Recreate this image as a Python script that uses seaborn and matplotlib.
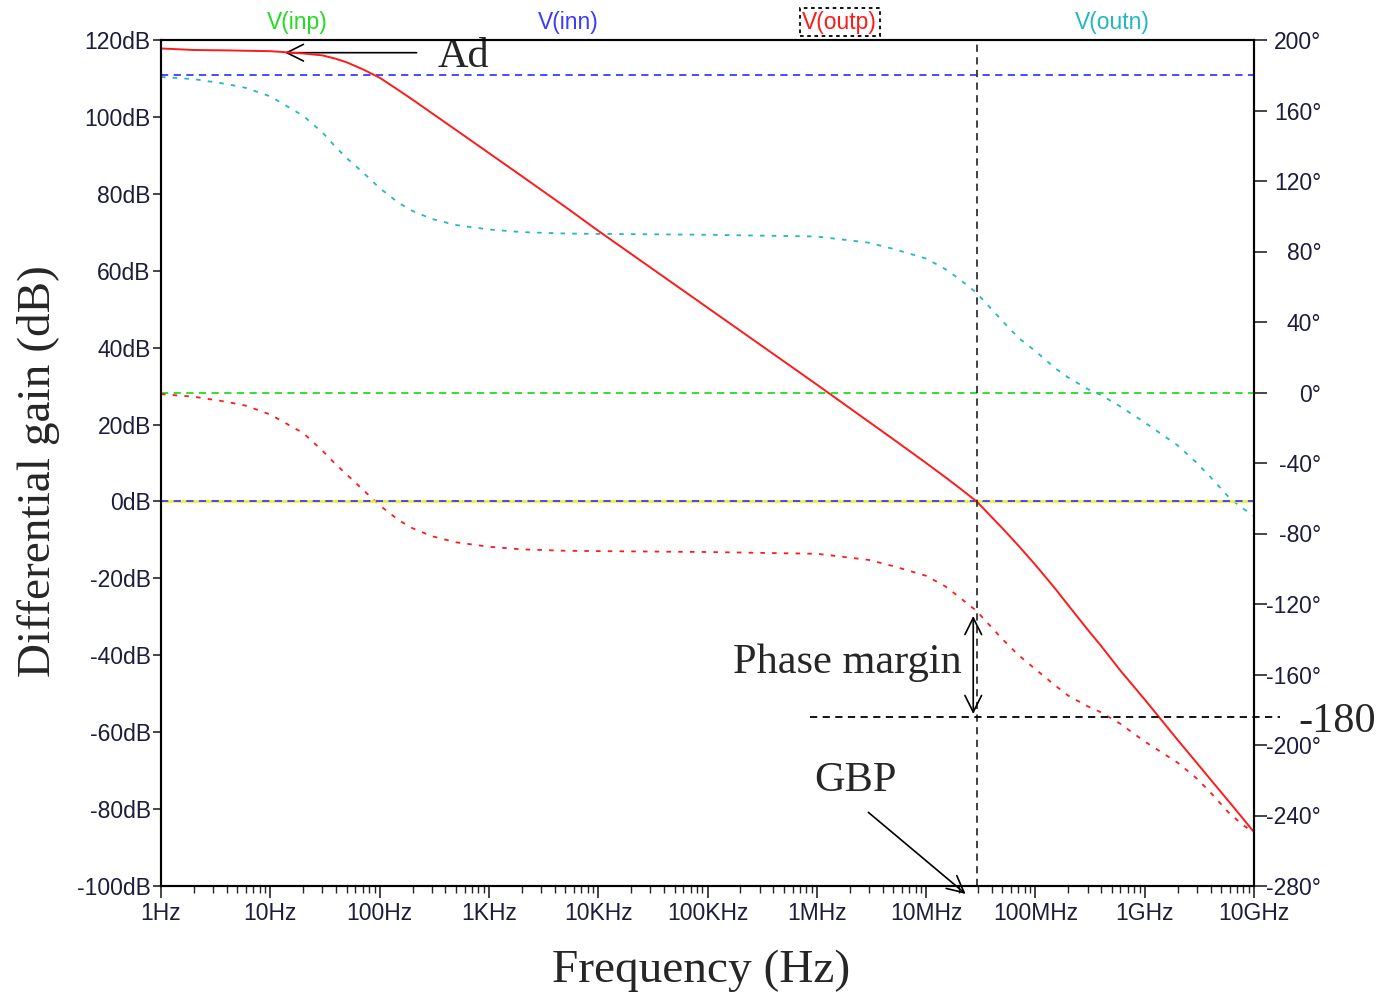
import matplotlib
matplotlib.use('Agg')
import matplotlib.pyplot as plt
import seaborn as sns
from matplotlib.ticker import LogLocator, NullFormatter
from matplotlib.transforms import Bbox, TransformedBbox, IdentityTransform

freq_hz = [1, 2, 4, 6, 10, 20, 30, 40, 50, 70, 100, 150, 200, 300, 500,
           1e3, 2e3, 5e3, 1e4, 1e5, 1e6, 3e6, 5e6, 1e7, 1.5e7, 2e7, 2.9e7,
           5e7, 7e7, 1e8, 1.5e8, 2e8, 3e8, 4e8, 6e8, 1e9, 2e9, 3e9, 4e9, 6e9,
           8e9, 1e10]
gain_outp_db = [117.8, 117.4, 117.3, 117.2, 117.1, 116.5, 116.0, 115.1, 114.2,
                112.4, 110.2, 106.9, 104.5, 101.0, 96.6, 90.6, 84.6, 76.6, 70.4,
                50.4, 30.4, 20.7, 16.2, 10.0, 6.3, 3.6, 0.0, -7.0, -11.5, -16.5,
                -22.5, -27.0, -33.3, -37.6, -44.0, -51.5, -62.0, -68.0, -72.3,
                -78.3, -82.6, -86.0]
phase_outp_deg = [-0.9, -2.4, -5.3, -7.5, -12.5, -23, -33, -41, -46.5, -55, -64,
                  -72.5, -77, -81.5, -85, -87.5, -89, -89.8, -90, -90.5, -91.5,
                  -95, -98.5, -104, -110, -116, -124, -140, -149, -157, -166,
                  -172, -178, -181.5, -188, -198, -210, -219, -227, -239,
                  -245.5, -250]
phase_outn_deg = [179, 177.8, 175, 172.8, 168, 157, 147.5, 139, 133, 125, 116,
                  107.5, 103, 98.5, 95, 92.5, 91, 90.2, 90, 89.5, 88.5, 85, 81.5,
                  76, 70, 64.5, 56.5, 40.5, 31, 23.5, 14, 8.5, 2, -1.5, -8, -17,
                  -30, -40, -48, -60, -66, -70]

span_hz = [1, 1e10]
gain_in_db = [0, 0]
phase_inp_deg = [0, 0]
phase_inn_deg = [180, 180]

freq_ticks = [1, 10, 100, 1e3, 1e4, 1e5, 1e6, 1e7, 1e8, 1e9, 1e10]
freq_labels = ['1Hz', '10Hz', '100Hz', '1KHz', '10KHz', '100KHz', '1MHz', '10MHz',
               '100MHz', '1GHz', '10GHz']
gain_ticks = list(range(-100, 121, 20))
phase_ticks = list(range(-280, 201, 40))

trace_names = ['V(inp)', 'V(inn)', 'V(outp)', 'V(outn)']
trace_colors = ['#22dd22', '#3b3bff', '#ff1a1a', '#22b8c0']
trace_label_x = [0.1244, 0.373, 0.621, 0.870]

gbp_hz = 2.9e7

sns.set_style('ticks')
plt.rcParams['font.family'] = ['Liberation Sans', 'DejaVu Sans']
plt.rcParams['axes.unicode_minus'] = False
serif = ['Liberation Serif', 'DejaVu Serif']
tick_color = '#1c1c3c'

fig = plt.figure(figsize=(13.81, 9.93), dpi=100)
ax = fig.add_axes([161 / 1381, 107 / 993, 1093 / 1381, 846 / 993])
ax.set_xscale('log')
ax2 = ax.twinx()

# fases (eje derecho)
sns.lineplot(x=span_hz, y=phase_inp_deg, ax=ax2, color=trace_colors[0], lw=1.3,
             linestyle=(0, (4, 3)))
sns.lineplot(x=span_hz, y=phase_inn_deg, ax=ax2, color=trace_colors[1], lw=1.3,
             linestyle=(0, (4, 3)))
sns.lineplot(x=freq_hz, y=phase_outn_deg, ax=ax2, color=trace_colors[3], lw=1.3,
             linestyle=(0, (2.5, 4)))
sns.lineplot(x=freq_hz, y=phase_outp_deg, ax=ax2, color=trace_colors[2], lw=1.3,
             linestyle=(0, (2.5, 4)))

# magnitudes (eje izquierdo)
sns.lineplot(x=span_hz, y=gain_in_db, ax=ax2, color='#eeee22', lw=1.8,
             transform=ax.transData)
sns.lineplot(x=span_hz, y=gain_in_db, ax=ax2, color=trace_colors[1], lw=1.3,
             linestyle=(0, (4, 3)), transform=ax.transData)
sns.lineplot(x=freq_hz, y=gain_outp_db, ax=ax2, color=trace_colors[2], lw=1.4,
             transform=ax.transData)

ax2.axvline(gbp_hz, color='#333333', lw=1.3, linestyle=(0, (4, 3)))

ax.set_xlim(1, 1e10)
ax.set_ylim(-100, 120)
ax2.set_ylim(-280, 200)

ax.set_xticks(freq_ticks, freq_labels)
ax.xaxis.set_minor_locator(LogLocator(base=10, subs=range(2, 10), numticks=100))
ax.xaxis.set_minor_formatter(NullFormatter())
ax.set_yticks(gain_ticks, [f'{v}dB' for v in gain_ticks])
ax2.set_yticks(phase_ticks, [f'{v}°' for v in phase_ticks])

ax.tick_params(axis='x', which='major', length=8.6, width=1.2, pad=3,
               labelsize=16.5, labelcolor=tick_color)
ax.tick_params(axis='x', which='minor', length=5, width=1.0)
ax.tick_params(axis='y', length=5.8, width=1.2, pad=1.5, labelsize=16.5,
               labelcolor=tick_color)
ax2.tick_params(axis='y', length=9.4, width=1.2, pad=39, labelsize=16.5,
                labelcolor=tick_color)

clip = TransformedBbox(Bbox.from_extents(0, 0, 1322, 993), IdentityTransform())
for lab in ax2.get_yticklabels():
    lab.set_horizontalalignment('right')
    lab.set_clip_box(clip)
    lab.set_clip_on(True)

for a in (ax, ax2):
    for s in a.spines.values():
        s.set_linewidth(1.5)
        s.set_color('black')
    a.set_ylabel('')

ax.set_xlabel('Frequency (Hz)', family=serif, fontsize=34)
ax.xaxis.set_label_coords(0.494, -0.0745)
ax.set_ylabel('Differential gain (dB)', family=serif, fontsize=34)
ax.yaxis.set_label_coords(-0.092, 0.4905)

# nombres de las trazas arriba
for name, col, xp in zip(trace_names, trace_colors, trace_label_x):
    kw = {}
    if name == 'V(outp)':
        kw['bbox'] = dict(boxstyle='square,pad=0.12', fc='none', ec='black',
                          lw=1.3, ls=(0, (2, 2)))
    ax.text(xp, 1 + 18 / 846, name, transform=ax.transAxes, ha='center',
            va='center', fontsize=16.5, color=col, **kw)

# anotaciones
arrow = dict(lw=1.2, color='black', shrinkA=0, shrinkB=0, mutation_scale=20)
ax.annotate('', xy=(13.6, 116.7), xytext=(218, 116.7),
            arrowprops=dict(arrowstyle='->,head_length=0.6,head_width=0.3', **arrow))
ax.text(342, 113.0, 'Ad', family=serif, fontsize=30.5, ha='left', va='baseline')

ax2.plot([10 ** 5.938, 10 ** 10.238], [-184.3, -184.3], color='black', lw=1.3,
         linestyle=(0, (4, 3)), clip_on=False)
ax2.annotate('', xy=(2.7e7, -126.8), xytext=(2.7e7, -182.4),
             arrowprops=dict(arrowstyle='<->,head_length=0.6,head_width=0.3', **arrow))
ax2.text(1.89e6, -159.1, 'Phase margin', family=serif, fontsize=30.5,
         ha='center', va='baseline')
ax2.text(10 ** 10.41, -192.5, '-180', family=serif, fontsize=30.5, ha='left',
         va='baseline', clip_on=False)
ax2.text(2.27e6, -225.9, 'GBP', family=serif, fontsize=30.5, ha='center',
         va='baseline')
ax2.annotate('', xy=(2.3e7, -284.5), xytext=(2.96e6, -238.2),
             arrowprops=dict(arrowstyle='->,head_length=0.6,head_width=0.3', **arrow),
             annotation_clip=False)

fig.savefig('out.png', dpi=100)
